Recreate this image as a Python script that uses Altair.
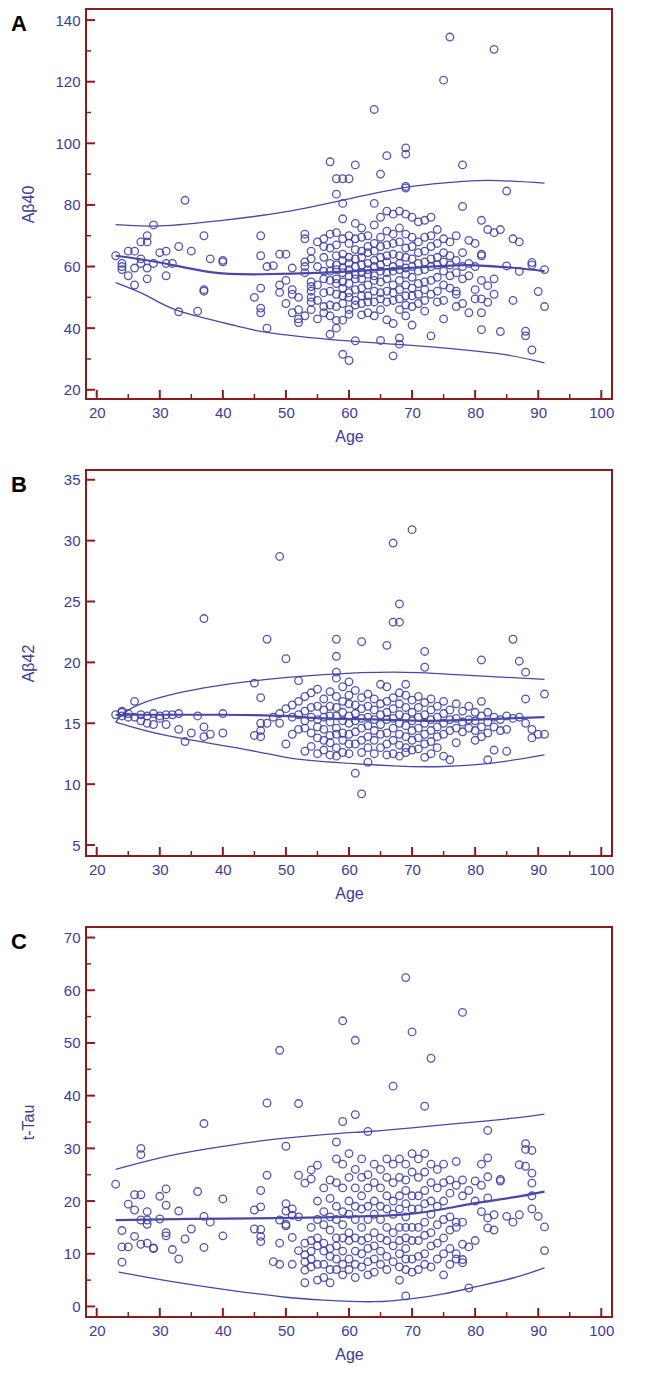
import altair as alt
import pandas as pd

# ---------------- data ----------------
ab40_by_age = {
    23: [63.5], 24: [61, 60, 59], 25: [65, 57], 26: [65, 59.5, 54],
    27: [68, 62.5, 61], 28: [70, 68, 59.5, 56], 29: [73.5, 61], 30: [64.5],
    31: [65, 61, 57], 32: [61], 33: [66.5, 45.3], 34: [81.5], 35: [65],
    36: [45.5], 37: [70, 52.5, 52], 38: [62.5], 40: [62, 61.5], 45: [50],
    46: [70, 63.5, 53, 46.5, 45], 47: [60, 40], 48: [60.3], 49: [64, 54, 51.6],
    50: [64, 55.5, 48], 51: [59.5, 52.5, 51, 45], 52: [50, 46, 43, 41.8],
    53: [70.5, 69, 61.5, 60, 58, 44], 54: [65, 62.5, 55, 53.5, 52, 50, 48.5, 46],
    55: [68, 60, 54, 49, 43], 56: [69, 66.5, 63, 58.5, 56, 51.5, 47, 45],
    57: [94, 70.5, 66, 61, 58.5, 55.5, 52, 47.5, 44, 38],
    58: [88.5, 83.5, 71, 67, 63.5, 60.5, 59, 56, 54.5, 51, 47, 42.5, 40],
    59: [88.5, 80.5, 75.5, 69, 64, 62, 59.5, 58, 55, 53, 50.5, 48, 42.6, 31.5],
    60: [88.5, 70, 67.5, 63, 61, 59, 57, 54.5, 51.5, 50, 46, 44.5, 29.5],
    61: [93, 74, 69, 65.5, 62.5, 60, 57.5, 56, 52.5, 49, 47.5, 35.9],
    62: [72.5, 69.5, 65, 63, 60.5, 58, 56, 53, 50.5, 48, 44.3],
    63: [70, 66.5, 64.5, 61, 59, 57.5, 54, 50.5, 48.5, 45],
    64: [111, 80.5, 73.5, 67.5, 65, 62, 60, 57, 55.5, 52, 48.5, 44],
    65: [90, 76, 69.5, 66.5, 63, 60.5, 58.5, 55, 51.5, 49.5, 46, 36],
    66: [96, 78, 71.5, 67, 63.5, 61.5, 58, 56, 52, 48.5, 42.7],
    67: [77, 70.5, 67.5, 64, 60, 58.5, 54, 51.5, 49, 41.5, 31],
    68: [78, 72.5, 68, 63.5, 61, 59, 55.5, 52.5, 49.5, 46, 36.8, 34.8],
    69: [98.5, 96.5, 86, 85.5, 77, 70.5, 66, 63, 59.5, 57.5, 54, 50.5, 47.5, 44],
    70: [76, 69.5, 66.5, 62.5, 60, 56.5, 53, 50.5, 47, 41],
    71: [74.5, 68, 64.5, 61, 58.5, 54.5, 51, 48],
    72: [75, 69.5, 65, 61.5, 59, 55, 52.5, 49, 45.5],
    73: [76, 70, 66.5, 62.5, 60, 55.5, 51, 37.5],
    74: [72, 67.5, 63, 60.5, 56.5, 52, 48.5],
    75: [120.5, 69, 64.5, 61.5, 58.5, 54, 49, 43],
    76: [134.5, 68, 63.5, 60.5, 57, 53],
    77: [70, 62, 58, 52, 51, 47], 78: [93, 79.5, 64.5, 60, 56, 48],
    79: [68.5, 61, 57, 45], 80: [67.5, 60, 52.5, 49.5],
    81: [75, 64, 63.5, 55.5, 49.5, 45, 39.5], 82: [72, 53.8, 48.4],
    83: [130.5, 71, 56, 51], 84: [72, 38.9], 85: [84.5, 60.2], 86: [69, 49],
    87: [68, 58.4], 88: [39, 37.5], 89: [61.3, 60.5, 32.9], 90: [51.9], 91: [59, 47],
}

ab42_by_age = {
    23: [15.7], 24: [16, 15.6, 15.9], 25: [15.5, 15.8], 26: [16.8, 15.5],
    27: [15.7, 15.2], 28: [15.6, 15.0], 29: [15.8, 14.9], 30: [15.6, 15.4],
    31: [15.7, 14.9], 32: [15.7], 33: [15.8, 14.5], 34: [13.5], 35: [14.2],
    36: [15.6], 37: [23.6, 14.7, 13.9], 38: [14.1], 40: [15.8, 14.2],
    45: [18.3, 14.0], 46: [17.1, 15.0, 14.4, 13.9], 47: [21.9, 15.0], 48: [15.5],
    49: [28.7, 15.8, 15.0], 50: [20.3, 16.2, 13.3], 51: [16.5, 15.5, 14.1],
    52: [18.5, 16.8, 15.7, 14.5], 53: [17.2, 16.0, 15.2, 14.6, 12.7],
    54: [17.5, 16.3, 15.5, 14.2, 13.1], 55: [17.8, 16.4, 15.3, 14.7, 13.8, 12.5],
    56: [17.0, 16.1, 15.5, 14.5, 13.6, 12.8],
    57: [17.6, 16.4, 15.6, 15.1, 14.0, 13.4, 12.4],
    58: [21.9, 20.5, 19.2, 18.7, 17.2, 16.3, 15.6, 14.6, 14.1, 13.0, 12.3],
    59: [18.0, 16.8, 15.9, 15.2, 14.2, 13.6, 12.6],
    60: [18.4, 17.3, 16.6, 15.6, 15.0, 14.1, 13.3, 12.5],
    61: [17.7, 16.5, 15.8, 15.2, 14.3, 13.3, 10.9],
    62: [21.7, 17.1, 16.2, 15.4, 14.6, 13.6, 12.6, 9.2],
    63: [17.4, 16.4, 15.5, 14.8, 13.9, 13.0, 11.8],
    64: [17.0, 16.1, 15.3, 14.4, 13.6, 12.5],
    65: [18.2, 16.6, 15.7, 14.9, 14.1, 13.0],
    66: [21.4, 18.0, 16.8, 15.9, 15.3, 14.2, 13.3, 12.4],
    67: [29.8, 23.3, 17.1, 16.2, 15.4, 14.6, 13.6, 12.5],
    68: [24.8, 23.3, 17.5, 16.6, 15.7, 15.0, 14.1, 13.2, 12.3],
    69: [18.2, 17.3, 16.3, 15.5, 14.8, 13.9, 13.0, 12.6],
    70: [30.9, 16.9, 15.9, 15.2, 14.4, 13.6, 12.8],
    71: [17.2, 16.3, 15.5, 14.6, 13.8, 12.9],
    72: [20.9, 19.6, 16.7, 15.7, 15.0, 14.1, 13.3, 12.2],
    73: [17.0, 16.1, 15.3, 14.4, 13.5, 12.5],
    74: [16.4, 15.5, 14.7, 13.9, 13.0], 75: [16.8, 15.8, 15.0, 14.1, 12.3],
    76: [16.1, 15.3, 14.4, 12.0], 77: [16.6, 15.4, 14.6, 13.4],
    78: [16.0, 15.1, 14.3], 79: [16.4, 15.3, 14.6], 80: [15.9, 15.2, 14.4, 13.6],
    81: [20.2, 16.8, 15.6, 14.7, 13.9], 82: [15.9, 15.1, 14.2, 12.0],
    83: [15.5, 14.7, 12.8], 84: [15.3, 14.4], 85: [15.6, 14.5, 12.7],
    86: [21.9, 15.4], 87: [20.1, 15.5], 88: [19.2, 17.0, 15.0], 89: [14.5, 13.8],
    90: [14.1], 91: [17.4, 14.1],
}

ttau_by_age = {
    23: [23.2], 24: [14.4, 11.3, 8.4], 25: [19.4, 11.3], 26: [21.2, 18.3, 13.3],
    27: [30, 28.8, 21.2, 16.4, 11.8], 28: [18.0, 16.4, 15.6, 12.0], 29: [11.1, 11.0],
    30: [20.9, 16.6], 31: [22.3, 19.2, 14.0, 13.4], 32: [10.8], 33: [18.1, 9.0],
    34: [12.8], 35: [14.7], 36: [21.8], 37: [34.7, 17.1, 11.2], 38: [16.0],
    40: [20.4, 13.4], 45: [18.3, 14.7], 46: [22.0, 18.9, 14.6, 13.3, 12.3],
    47: [38.6, 24.9], 48: [8.5], 49: [48.6, 16.4, 12.0, 8.0],
    50: [30.4, 19.5, 18.1, 15.6, 15.3], 51: [18.5, 17.3, 13.1, 8.0],
    52: [38.5, 24.9, 17.0, 10.6], 53: [23.4, 12.0, 9.8, 8.5, 6.9, 4.5],
    54: [25.9, 24.2, 15.0, 12.5, 10.5, 9.0, 7.5],
    55: [26.8, 20.0, 16.5, 13.0, 11.5, 8.0, 5.0],
    56: [22.5, 18.0, 15.5, 12.0, 10.5, 8.0, 5.5],
    57: [24.0, 20.5, 17.0, 14.5, 11.0, 9.5, 7.0, 4.5],
    58: [31.2, 28.0, 23.5, 19.0, 16.5, 13.0, 11.5, 9.0, 7.0],
    59: [54.2, 35.1, 27.0, 22.5, 18.0, 15.5, 13.0, 10.5, 8.0, 6.0],
    60: [29.0, 24.5, 20.0, 17.5, 14.0, 12.5, 9.0, 7.0],
    61: [50.5, 36.4, 26.0, 22.5, 19.0, 16.5, 13.0, 10.5, 8.0, 5.5],
    62: [28.0, 24.5, 21.0, 18.5, 15.0, 12.5, 10.0, 7.5],
    63: [33.2, 25.0, 22.5, 19.0, 16.5, 13.0, 11.0, 8.5, 6.0],
    64: [27.0, 23.5, 20.0, 17.5, 14.0, 11.5, 9.0, 6.5],
    65: [26.0, 22.5, 19.0, 16.5, 13.0, 10.5, 8.0],
    66: [28.0, 24.5, 21.0, 18.5, 15.0, 12.5, 9.5, 7.0],
    67: [41.8, 27.0, 23.5, 20.0, 17.5, 14.0, 11.5, 8.5],
    68: [28.0, 24.5, 21.0, 18.5, 15.0, 12.5, 10.0, 7.5, 5.0],
    69: [62.4, 27.0, 24.0, 22.0, 19.5, 17.0, 15.0, 13.0, 11.0, 9.0, 7.0, 2.0],
    70: [52.1, 29.0, 25.5, 21.0, 18.5, 15.0, 12.5, 9.0, 6.5],
    71: [28.0, 24.5, 21.0, 18.5, 15.0, 12.5, 9.5, 7.0],
    72: [38.0, 29.0, 25.5, 22.0, 19.5, 16.0, 13.5, 10.0, 8.0],
    73: [47.1, 27.0, 23.5, 20.0, 17.5, 14.0, 11.5, 7.5],
    74: [26.0, 22.5, 19.0, 15.5, 12.0, 9.0],
    75: [27.0, 23.5, 20.0, 16.5, 13.0, 10.0, 6.0],
    76: [24.0, 21.5, 17.0, 14.5, 11.0, 8.0],
    77: [27.5, 23.0, 16.0, 15.0, 10.0, 9.0],
    78: [55.8, 24.0, 21.0, 16.0, 11.8, 8.9, 8.3],
    79: [22.0, 11.3, 3.5], 80: [23.8, 20.0, 12.5], 81: [27.0, 23.0, 18.0],
    82: [33.4, 28.2, 24.6, 20.6, 16.8, 14.9], 83: [17.4, 14.5], 84: [24.1, 23.8],
    85: [17.1], 86: [16.0], 87: [26.9, 17.4], 88: [30.9, 29.8, 26.6],
    89: [29.6, 25.3, 23.4, 21.0, 18.5], 90: [17.1], 91: [15.1, 10.6],
}

# reference curves (age, value)
ab40_upper = [(23, 73.6), (30, 73.2), (40, 75), (50, 77.8), (60, 82), (69, 85.7),
              (76, 87.3), (82, 88), (91, 87.1)]
ab40_median = [(23, 63.5), (30, 61.3), (38, 58.2), (46, 57.5), (56, 58), (65, 59),
               (75, 60.2), (80, 60.4), (86, 59.6), (91, 58.5)]
ab40_lower = [(23, 54.8), (28, 50.5), (33, 45.6), (42, 40.8), (47, 38.6), (56, 36.5),
              (67, 34.8), (77, 33.2), (85, 31.3), (91, 28.7)]

ab42_upper = [(23, 15.1), (27, 16.6), (37, 17.9), (47, 18.6), (56, 19), (67, 19.2),
              (77, 19), (91, 18.6)]
ab42_median = [(23, 15.7), (40, 15.7), (50, 15.6), (56, 15.4), (65, 15.3), (72, 15.2),
               (80, 15.3), (91, 15.5)]
ab42_lower = [(23, 15.1), (31, 14.0), (42, 13.0), (50, 12.2), (56, 11.85), (67, 11.5),
              (75, 11.45), (83, 11.75), (91, 12.4)]

ttau_upper = [(23, 26), (30, 28.2), (37, 29.8), (46, 31.4), (56, 32.6), (63, 33.2),
              (70, 33.9), (77, 34.7), (85, 35.6), (91, 36.5)]
ttau_median = [(23, 16.4), (35, 16.6), (45, 16.7), (56, 16.9), (65, 17.2), (70, 17.6),
               (75, 18.5), (80, 19.6), (86, 20.7), (91, 21.8)]
ttau_lower = [(23.5, 6.5), (31, 4.9), (41, 3.1), (50, 1.75), (56, 1.2), (64, 0.9),
              (70, 1.5), (75, 2.4), (80, 3.7), (86, 5.4), (91, 7.3)]

x_major = [20, 30, 40, 50, 60, 70, 80, 90, 100]
x_minor = [25, 35, 45, 55, 65, 75, 85, 95]
ab40_major = [20, 40, 60, 80, 100, 120, 140]
ab40_minor = [30, 50, 70, 90, 110, 130]
ab42_major = [5, 10, 15, 20, 25, 30, 35]
ab42_minor = []
ttau_major = [0, 10, 20, 30, 40, 50, 60, 70]
ttau_minor = [5, 15, 25, 35, 45, 55, 65]

# ---------------- styling ----------------
FONT = "Liberation Sans"
FRAME = "#8b1c1c"
TXT = "#3b3b98"
PT = "#3838a2"
LINE = "#4848a8"
X_DOMAIN = [18.3, 101.7]
W = 526


def points_df(d):
    return pd.DataFrame([{"age": a, "value": v} for a, vs in d.items() for v in vs])


def curve_df(pairs):
    return pd.DataFrame(pairs, columns=["age", "value"])


def panel(letter, title, pts, upper, median, lower, ydom, ymaj, ymin, H):
    xs = alt.Scale(domain=X_DOMAIN, nice=False, zero=False)
    ys = alt.Scale(domain=ydom, nice=False, zero=False)
    xaxis = alt.Axis(values=x_major, ticks=False, domain=False, grid=False,
                     labelColor=TXT, labelFont=FONT, labelFontSize=15, labelPadding=6,
                     title="Age", titleColor=TXT, titleFont=FONT, titleFontSize=16,
                     titleFontWeight="normal", titlePadding=8)
    yaxis = alt.Axis(values=ymaj, ticks=False, domain=False, grid=False,
                     labelColor=TXT, labelFont=FONT, labelFontSize=15, labelPadding=6,
                     title=title, titleColor=TXT, titleFont=FONT, titleFontSize=16,
                     titleFontWeight="normal", titleX=-58, titleBaseline="middle")
    X = alt.X("age:Q", scale=xs, axis=xaxis)
    Y = alt.Y("value:Q", scale=ys, axis=yaxis)

    layers = []
    layers.append(alt.Chart(points_df(pts)).mark_point(
        shape="circle", filled=False, size=58, strokeWidth=1.3, color=PT,
        opacity=0.85).encode(x=X, y=Y))
    for c, sw in ((upper, 1.3), (lower, 1.3), (median, 2.2)):
        layers.append(alt.Chart(curve_df(c)).mark_line(
            color=LINE, strokeWidth=sw, interpolate="natural").encode(x=X, y=Y))
    layers.append(alt.Chart(pd.DataFrame({"age": x_major})).mark_rule(
        color=FRAME, strokeWidth=2).encode(x=X, y=alt.value(H), y2=alt.value(H - 9)))
    layers.append(alt.Chart(pd.DataFrame({"age": x_minor})).mark_rule(
        color=FRAME, strokeWidth=1.5).encode(x=X, y=alt.value(H), y2=alt.value(H - 5)))
    layers.append(alt.Chart(pd.DataFrame({"value": ymaj})).mark_rule(
        color=FRAME, strokeWidth=2).encode(y=Y, x=alt.value(0), x2=alt.value(9)))
    if ymin:
        layers.append(alt.Chart(pd.DataFrame({"value": ymin})).mark_rule(
            color=FRAME, strokeWidth=1.5).encode(y=Y, x=alt.value(0), x2=alt.value(5)))
    layers.append(alt.Chart(alt.Data(values=[{}])).mark_text(
        text=letter, font=FONT, fontSize=22, fontWeight="bold", color="black",
        align="left", baseline="alphabetic").encode(x=alt.value(-75), y=alt.value(22)))
    return alt.layer(*layers).properties(width=W, height=H)


pA = panel("A", "Aβ40", ab40_by_age, ab40_upper, ab40_median, ab40_lower,
           [17.0, 143.6], ab40_major, ab40_minor, 390)
pB = panel("B", "Aβ42", ab42_by_age, ab42_upper, ab42_median, ab42_lower,
           [4.1, 35.8], ab42_major, ab42_minor, 386)
pC = panel("C", "t-Tau", ttau_by_age, ttau_upper, ttau_median, ttau_lower,
           [-2.0, 72.0], ttau_major, ttau_minor, 390)

chart = alt.vconcat(pA, pB, pC, spacing=24).configure_view(
    stroke=FRAME, strokeWidth=2).properties(
    padding={"left": 2, "top": 0, "right": 5, "bottom": 5}, background="white")

chart.save("out.html", embed_options={"renderer": "svg", "actions": False})
